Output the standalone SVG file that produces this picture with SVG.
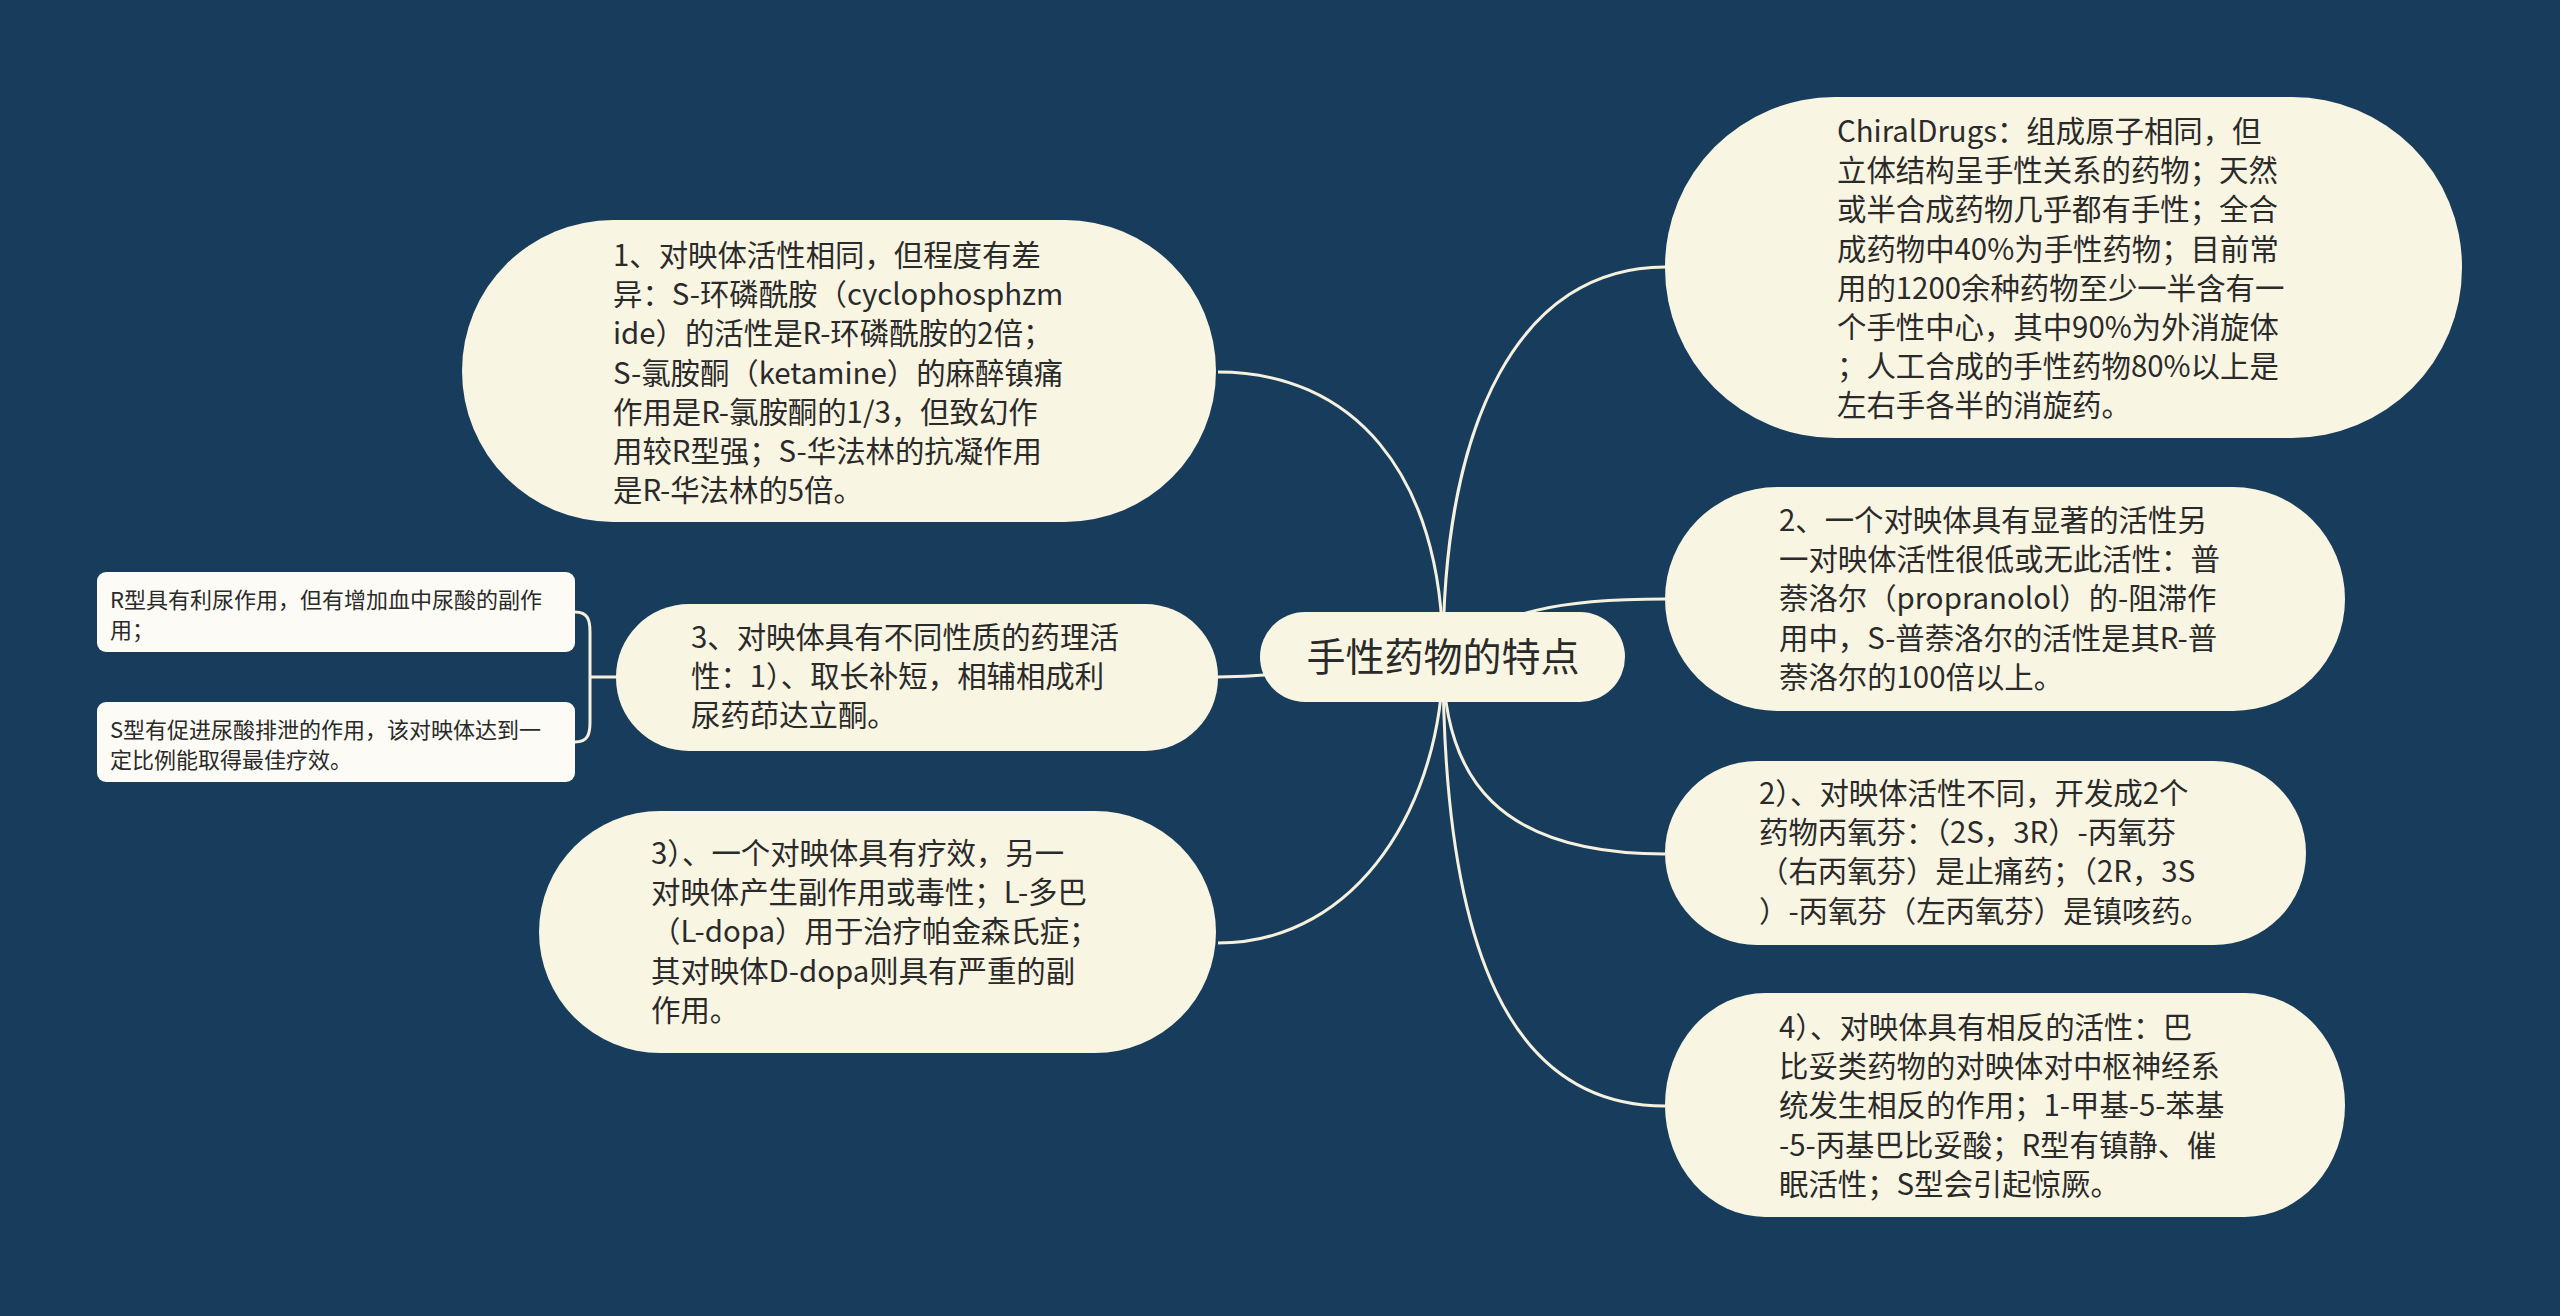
<svg xmlns="http://www.w3.org/2000/svg" width="2560" height="1316" viewBox="0 0 2560 1316">
<style>
.bg{fill:#183d5c}
.pill{fill:#f9f5e3}
.leaf{fill:#fcfbf5}
.edge{fill:none;stroke:#f5f1de;stroke-width:3}
.t{font-family:"Microsoft YaHei","Noto Sans CJK SC","Noto Sans",sans-serif;font-size:29.4px;fill:#2a2a2a}
.ts{font-family:"Microsoft YaHei","Noto Sans CJK SC","Noto Sans",sans-serif;font-size:22px;fill:#2a2a2a}
.tc{font-family:"Noto Sans CJK SC","Noto Sans",sans-serif;font-size:39px;fill:#2a2a2a;text-anchor:middle}
</style>
<rect class="bg" x="0" y="0" width="2560" height="1316"/>
<g id="connectors">
<path class="edge" d="M1443,657 C1443,470 1350,372 1218,372"/>
<path class="edge" d="M1443,657 C1350,660 1300,677 1218,677"/>
<path class="edge" d="M1443,657 C1443,800 1360,943 1218,943"/>
<path class="edge" d="M1443,657 C1443,420 1520,267 1665,267"/>
<path class="edge" d="M1443,657 C1500,610 1560,599 1665,599"/>
<path class="edge" d="M1443,657 C1443,780 1500,854 1665,854"/>
<path class="edge" d="M1443,657 C1443,950 1510,1106 1665,1106"/>
<path class="edge" d="M575,612 C588,612 590,620 590,632 L590,722 C590,734 588,742 575,742"/>
<path class="edge" d="M590,677 L620,677"/>
</g>
<g id="center">
<rect class="pill" x="1260" y="612" width="365" height="90" rx="45" ry="45"/>
<text class="tc" x="1443" y="671">手性药物的特点</text>
</g>
<g id="node1">
<rect class="pill" x="462" y="220" width="754" height="302" rx="151" ry="151"/>
<text class="t" x="613" y="266"><tspan x="613" y="266">1、对映体活性相同，但程度有差</tspan><tspan x="613" y="305.2">异：S-环磷酰胺（cyclophosphzm</tspan><tspan x="613" y="344.4">ide）的活性是R-环磷酰胺的2倍；</tspan><tspan x="613" y="383.6">S-氯胺酮（ketamine）的麻醉镇痛</tspan><tspan x="613" y="422.8">作用是R-氯胺酮的1/3，但致幻作</tspan><tspan x="613" y="462">用较R型强；S-华法林的抗凝作用</tspan><tspan x="613" y="501.2">是R-华法林的5倍。</tspan></text>
</g>
<g id="node3">
<rect class="pill" x="616" y="604" width="602" height="147" rx="73" ry="73"/>
<text class="t" x="691" y="648"><tspan x="691" y="648">3、对映体具有不同性质的药理活</tspan><tspan x="691" y="687.2">性：1）、取长补短，相辅相成利</tspan><tspan x="691" y="726.4">尿药茚达立酮。</tspan></text>
</g>
<g id="leaf-r">
<rect class="leaf" x="97" y="572" width="478" height="80" rx="9" ry="9"/>
<text class="ts" x="110" y="608"><tspan x="110" y="608">R型具有利尿作用，但有增加血中尿酸的副作</tspan><tspan x="110" y="638">用；</tspan></text>
</g>
<g id="leaf-s">
<rect class="leaf" x="97" y="702" width="478" height="80" rx="9" ry="9"/>
<text class="ts" x="110" y="738"><tspan x="110" y="738">S型有促进尿酸排泄的作用，该对映体达到一</tspan><tspan x="110" y="768">定比例能取得最佳疗效。</tspan></text>
</g>
<g id="node3b">
<rect class="pill" x="539" y="811" width="677" height="242" rx="121" ry="121"/>
<text class="t" x="651" y="864"><tspan x="651" y="864">3）、一个对映体具有疗效，另一</tspan><tspan x="651" y="903.2">对映体产生副作用或毒性；L-多巴</tspan><tspan x="651" y="942.4">（L-dopa）用于治疗帕金森氏症；</tspan><tspan x="651" y="981.6">其对映体D-dopa则具有严重的副</tspan><tspan x="651" y="1020.8">作用。</tspan></text>
</g>
<g id="chiral">
<rect class="pill" x="1665" y="97" width="797" height="341" rx="170" ry="170"/>
<text class="t" x="1837" y="142"><tspan x="1837" y="142">ChiralDrugs：组成原子相同，但</tspan><tspan x="1837" y="181.2">立体结构呈手性关系的药物；天然</tspan><tspan x="1837" y="220.4">或半合成药物几乎都有手性；全合</tspan><tspan x="1837" y="259.6">成药物中40%为手性药物；目前常</tspan><tspan x="1837" y="298.8">用的1200余种药物至少一半含有一</tspan><tspan x="1837" y="338">个手性中心，其中90%为外消旋体</tspan><tspan x="1837" y="377.2">；人工合成的手性药物80%以上是</tspan><tspan x="1837" y="416.4">左右手各半的消旋药。</tspan></text>
</g>
<g id="node2">
<rect class="pill" x="1665" y="487" width="680" height="224" rx="112" ry="112"/>
<text class="t" x="1779" y="531"><tspan x="1779" y="531">2、一个对映体具有显著的活性另</tspan><tspan x="1779" y="570.2">一对映体活性很低或无此活性：普</tspan><tspan x="1779" y="609.4">萘洛尔（propranolol）的-阻滞作</tspan><tspan x="1779" y="648.6">用中，S-普萘洛尔的活性是其R-普</tspan><tspan x="1779" y="687.8">萘洛尔的100倍以上。</tspan></text>
</g>
<g id="node2b">
<rect class="pill" x="1665" y="761" width="641" height="184" rx="92" ry="92"/>
<text class="t" x="1759" y="804"><tspan x="1759" y="804">2）、对映体活性不同，开发成2个</tspan><tspan x="1759" y="843.2">药物丙氧芬：（2S，3R）-丙氧芬</tspan><tspan x="1759" y="882.4">（右丙氧芬）是止痛药；（2R，3S</tspan><tspan x="1759" y="921.6">）-丙氧芬（左丙氧芬）是镇咳药。</tspan></text>
</g>
<g id="node4b">
<rect class="pill" x="1665" y="993" width="680" height="224" rx="100" ry="112"/>
<text class="t" x="1779" y="1038"><tspan x="1779" y="1038">4）、对映体具有相反的活性：巴</tspan><tspan x="1779" y="1077.2">比妥类药物的对映体对中枢神经系</tspan><tspan x="1779" y="1116.4">统发生相反的作用；1-甲基-5-苯基</tspan><tspan x="1779" y="1155.6">-5-丙基巴比妥酸；R型有镇静、催</tspan><tspan x="1779" y="1194.8">眠活性；S型会引起惊厥。</tspan></text>
</g>
</svg>
